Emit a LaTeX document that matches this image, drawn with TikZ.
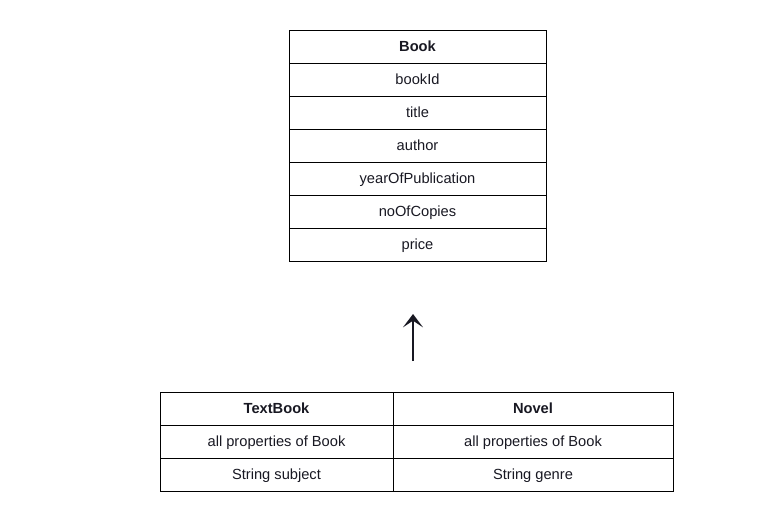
\documentclass[tikz,border=0pt]{standalone}
\usepackage{fontspec}
\setmainfont{Liberation Sans}
\usepackage{xcolor}
\usetikzlibrary{arrows.meta, positioning}
\definecolor{ink}{RGB}{24,24,34}
\tikzset{%
	cell/.style={draw, rectangle, line width=0.75pt, outer sep=0pt, inner sep=0pt,%
		minimum height=24.75pt, text height=9.5pt, text depth=2.3pt,%
		text=ink, font=\fontsize{11}{12}\selectfont},
	bookcell/.style={cell, minimum width=192.75pt},
	leftcell/.style={cell, minimum width=174.75pt},
	rightcell/.style={cell, minimum width=210pt},
	head/.style={font=\fontsize{11}{12}\selectfont\bfseries},
	inherit/.style={-{Stealth[length=10pt, width=15pt, inset=5pt]}, line width=2pt, draw=ink}
}
\begin{document}
\begin{tikzpicture}[x=0.75pt, y=-0.75pt]
	\useasboundingbox (0,0) rectangle (778,529);
	% parent class
	\node[bookcell, head, anchor=north west] (book) at (289,30) {Book};
	\node[bookcell, below=0pt of book] (bookid) {bookId};
	\node[bookcell, below=0pt of bookid] (title) {title};
	\node[bookcell, below=0pt of title] (author) {author};
	\node[bookcell, below=0pt of author] (year) {yearOfPublication};
	\node[bookcell, below=0pt of year] (copies) {noOfCopies};
	\node[bookcell, below=0pt of copies] (price) {price};

	% subclasses
	\node[leftcell, head, anchor=north west] (textbook) at (160,392) {TextBook};
	\node[leftcell, below=0pt of textbook] (tbprops) {all properties of Book};
	\node[leftcell, below=0pt of tbprops] (subject) {String subject};
	\node[rightcell, head, right=0pt of textbook] (novel) {Novel};
	\node[rightcell, below=0pt of novel] (nvprops) {all properties of Book};
	\node[rightcell, below=0pt of nvprops] (genre) {String genre};

	\coordinate (tail) at (413,361);
	\coordinate (tip) at (413,314);
	\draw[inherit] (tail) to (tip);
\end{tikzpicture}
\end{document}
